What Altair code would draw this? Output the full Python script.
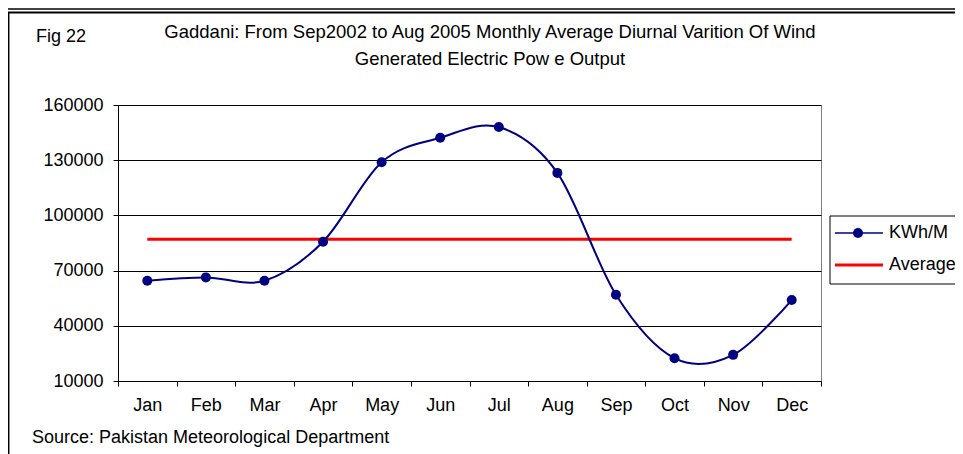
import altair as alt
import pandas as pd

# ---- data ----
months = ["Jan", "Feb", "Mar", "Apr", "May", "Jun", "Jul", "Aug", "Sep", "Oct", "Nov", "Dec"]
kwh_values = [64500, 66300, 64500, 85700, 128900, 142200, 148000, 123100, 56900, 22400, 24200, 54000]
average_values = [87000, 87000, 87000, 87000, 87000, 87000, 87000, 87000, 87000, 87000, 87000, 87000]
series_names = ["KWh/M", "Average"]
y_ticks = [10000, 40000, 70000, 100000, 130000, 160000]
fig_label = "Fig 22"
title_lines = [
    "Gaddani: From Sep2002 to Aug 2005 Monthly Average Diurnal Varition Of Wind",
    "Generated Electric Pow e Output",
]
source_text = "Source: Pakistan Meteorological Department"

# ---- layout ----
W, H = 703, 276
PAD_L, PAD_T = 110, 97
PAD_R = 947 - PAD_L - W
PAD_B = 446 - PAD_T - H
FONT = "Liberation Sans"
FS = 18
NAVY = "#000080"
RED = "#FF0000"

df = pd.DataFrame({"month": months, "kwh": kwh_values, "avg": average_values})
one = pd.DataFrame({"k": [0]})

x_enc = alt.X(
    "month:N",
    sort=months,
    scale=alt.Scale(type="band", paddingInner=0, paddingOuter=0),
    axis=alt.Axis(
        title=None, labelAngle=0, tickBand="extent", grid=False, tickSize=5,
        labelPadding=10, domainColor="black", tickColor="black",
        labelFont=FONT, labelFontSize=FS, labelColor="black",
    ),
)
y_scale = alt.Scale(domain=[10000, 160000], nice=False, zero=False)
y_axis = alt.Axis(
    title=None, values=y_ticks, format="d", grid=True, gridColor="black",
    gridWidth=1, tickSize=5, labelPadding=10, domainColor="black",
    tickColor="black", labelFont=FONT, labelFontSize=FS, labelColor="black",
)

base = alt.Chart(df)

avg_line = base.mark_line(color=RED, strokeWidth=3).encode(
    x=x_enc, y=alt.Y("avg:Q", scale=y_scale, axis=y_axis)
)
kwh_line = base.mark_line(interpolate="cardinal", color=NAVY, strokeWidth=2).encode(
    x=x_enc, y=alt.Y("kwh:Q", scale=y_scale, axis=y_axis)
)
kwh_pts = base.mark_circle(size=100, color=NAVY, opacity=1).encode(
    x=x_enc, y=alt.Y("kwh:Q", scale=y_scale, axis=y_axis)
)

deco = alt.Chart(one)


def hrule(x1, x2, yv, color="black", w=1.5):
    return deco.mark_rule(color=color, strokeWidth=w).encode(
        x=alt.value(x1), x2=alt.value(x2), y=alt.value(yv)
    )


def text(xv, yv, s, align="left", size=FS):
    return deco.mark_text(
        align=align, baseline="middle", font=FONT, fontSize=size, color="black"
    ).encode(x=alt.value(xv), y=alt.value(yv), text=alt.value(s))


frame_top1 = hrule(-110, 837, -96, w=1.5)
frame_top2 = hrule(-110, 837, -92.5, w=2)
frame_left = deco.mark_rule(color="black", strokeWidth=1.5).encode(
    x=alt.value(-109.3), y=alt.value(-92.5), y2=alt.value(349)
)

legend_box = deco.mark_rect(fill="white", stroke="black", strokeWidth=1).encode(
    x=alt.value(712), x2=alt.value(850), y=alt.value(111), y2=alt.value(179)
)
leg1_line = hrule(717, 765, 128, color=NAVY, w=1.5)
leg1_dot = deco.mark_circle(size=100, color=NAVY, opacity=1).encode(
    x=alt.value(740), y=alt.value(128)
)
leg1_txt = text(771, 128, series_names[0])
leg2_line = hrule(717, 765, 160, color=RED, w=3)
leg2_txt = text(771, 160, series_names[1])

t_fig = text(-82, -68, fig_label)
t_1 = text(372, -73, title_lines[0], align="center", size=18.5)
t_2 = text(372, -46, title_lines[1], align="center", size=18.5)
t_src = text(-86, 333, source_text)

chart = alt.layer(
    avg_line, kwh_line, kwh_pts,
    frame_top1, frame_top2, frame_left,
    legend_box, leg1_line, leg1_dot, leg1_txt, leg2_line, leg2_txt,
    t_fig, t_1, t_2, t_src,
).properties(
    width=W, height=H,
    autosize=alt.AutoSizeParams(type="none"),
    padding={"left": PAD_L, "top": PAD_T, "right": PAD_R, "bottom": PAD_B},
    background="white",
).configure_view(stroke="#808080", strokeWidth=1)

chart.save("out.html", embed_options={"renderer": "svg", "actions": False})
